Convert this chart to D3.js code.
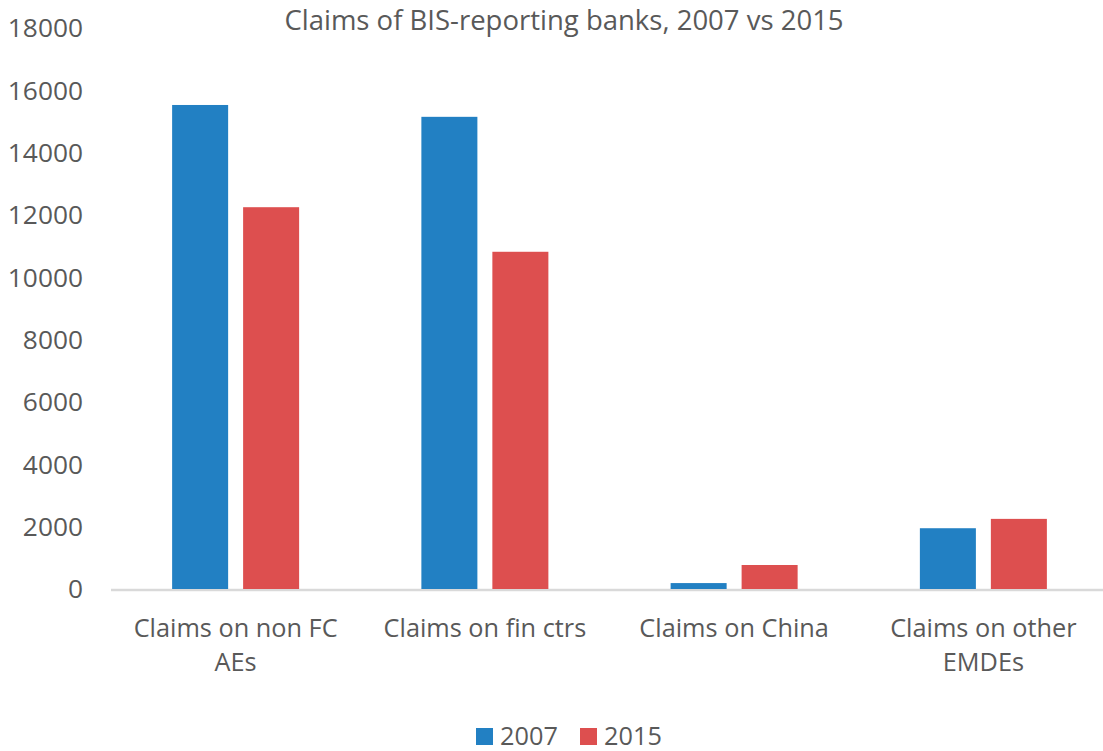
<!DOCTYPE html>
<html><head><meta charset="utf-8">
<script src="https://cdn.jsdelivr.net/npm/d3@7"></script>
<style>body{margin:0;background:#fff}svg{display:block}text{font-family:"Open Sans",sans-serif;fill:#595959}</style>
</head><body>
<script>
const categories = [["Claims on non FC","AEs"],["Claims on fin ctrs"],["Claims on China"],["Claims on other","EMDEs"]];
const series = ["2007","2015"];
const values2007 = [15530, 15150, 190, 1950];
const values2015 = [12250, 10820, 770, 2250];
const yTicks = [0,2000,4000,6000,8000,10000,12000,14000,16000,18000];
const colors = ["#2280c3","#dd4f4f"];
const title = "Claims of BIS-reporting banks, 2007 vs 2015";

const W=1103,H=751;
const svg=d3.select("body").append("svg").attr("width",W).attr("height",H);
const x0=111,x1=1108,yBase=589,yTop=28;
const y=d3.scaleLinear().domain([0,18000]).range([yBase,yTop]);
const xc=d3.scaleBand().domain(d3.range(categories.length)).range([x0,x1]);
const xs=d3.scaleBand().domain(series).range([-63.5,63.5]).paddingInner(0.211);

svg.append("text").attr("x",564).attr("y",30).attr("text-anchor","middle").style("font-size","27.5px").text(title);

const ya=svg.append("g");
yTicks.forEach(t=>{
  ya.append("text").attr("x",83).attr("y",y(t)).attr("dy","0.35em").attr("text-anchor","end").style("font-size","26.3px").text(t);
});
svg.append("line").attr("x1",x0).attr("x2",1103).attr("y1",yBase+1).attr("y2",yBase+1).attr("stroke","#d9d9d9").attr("stroke-width",2.5);

const data=[values2007,values2015];
categories.forEach((c,i)=>{
  const cx=xc(i)+xc.bandwidth()/2;
  series.forEach((s,j)=>{
    const v=data[j][i];
    svg.append("rect").attr("x",cx+xs(s)).attr("width",xs.bandwidth()).attr("y",y(v)).attr("height",yBase-y(v)).attr("fill",colors[j]);
  });
  c.forEach((line,k)=>{
    svg.append("text").attr("x",cx).attr("y",637+k*34).attr("text-anchor","middle").style("font-size","25.3px").text(line);
  });
});

const lg=[{s:"2007",x:476},{s:"2015",x:580}];
lg.forEach((l,j)=>{
  svg.append("rect").attr("x",l.x).attr("y",728).attr("width",17).attr("height",17).attr("fill",colors[j]);
  svg.append("text").attr("x",l.x+24).attr("y",745).style("font-size","25.3px").text(l.s);
});
</script>
</body></html>
